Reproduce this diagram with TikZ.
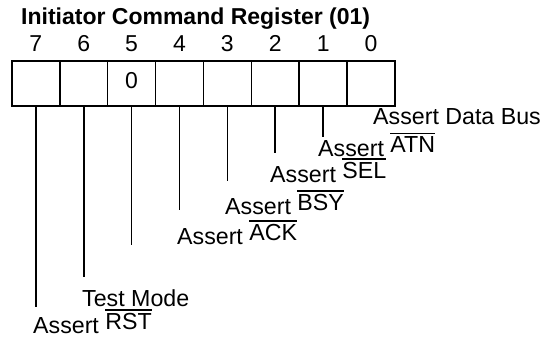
\documentclass[tikz,border=0pt]{standalone}
\usepackage{fontspec}
\setmainfont{Liberation Sans}
\usetikzlibrary{positioning}
% signal name, raised, with a bar over it
\newcommand\barsig[1]{\raisebox{4.5pt}{\setbox0\hbox{#1}\rlap{\rule[\dimexpr\ht0+2.5pt\relax]{\wd0}{1.5pt}}\box0}}
\tikzset{
  cellbox/.style={draw, line width=1.6pt, minimum width=47.9pt, minimum height=45pt, inner sep=0pt},
  bitnum/.style={font=\fontsize{23}{27}\selectfont, inner sep=0pt, anchor=base},
  sigtext/.style={font=\fontsize{23.2}{27}\selectfont, inner sep=0pt, anchor=base west},
  tap/.style={line width=1.7pt},
}
\begin{document}
\begin{tikzpicture}[x=1pt, y=-1pt]
  \useasboundingbox (0,0) rectangle (547,342);
  \node[anchor=base west, inner sep=0pt, font=\fontsize{23}{27}\selectfont\bfseries] (title) at (21,25) {Initiator Command Register (01)};
  % register cells, bit 7 on the left
  \foreach \i in {0,...,7} {
    \node[cellbox] (b\i) at ({371.05-47.9*\i},83.5) {};
    \node[bitnum] (d\i) at (b\i.north |- 0,52) {\i};
  }
  \node[bitnum] (z5) at (b5.center |- 0,89) {0};
  % taps down from the cells
  \foreach \i/\ey in {1/137, 2/153, 3/181, 4/210, 5/245, 6/277, 7/307} {
    \coordinate (e\i) at (b\i.south |- 0,\ey);
    \draw[tap] (b\i.south) -- (e\i);
  }
  \node[sigtext] (l0) at (373,125) {Assert Data Bus};
  \node[sigtext] (l1) at (318,157) {Assert \barsig{ATN}};
  \node[sigtext] (l2) at (270,183) {Assert \barsig{SEL}};
  \node[sigtext] (l3) at (225,215) {Assert \barsig{BSY}};
  \node[sigtext] (l4) at (177,245) {Assert \barsig{ACK}};
  \node[sigtext] (l6) at (82,306) {Test Mode};
  \node[sigtext] (l7) at (33,334) {Assert \barsig{RST}};
\end{tikzpicture}
\end{document}
